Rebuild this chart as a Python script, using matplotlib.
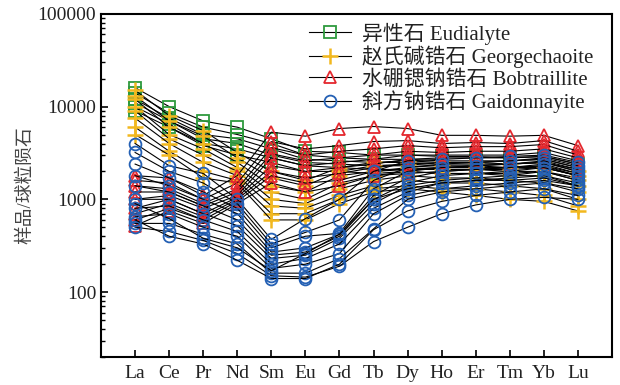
import matplotlib as mpl
mpl.use('Agg')
import matplotlib.pyplot as plt
from matplotlib.ticker import LogLocator, NullFormatter, FixedFormatter, FixedLocator

elements = ["La", "Ce", "Pr", "Nd", "Sm", "Eu", "Gd", "Tb", "Dy", "Ho", "Er", "Tm", "Yb", "Lu"]

# chondrite-normalised values, one row per sample
eudialyte = [
    [16000, 10000, 7000, 6000, 4500, 3300, 3200, 3000, 3000, 2900, 2900, 2800, 2900, 2400],
    [14000, 8500, 6000, 5000, 4000, 3000, 2800, 2700, 2700, 2600, 2600, 2600, 2700, 2200],
    [12000, 7500, 5000, 4500, 3500, 2700, 2600, 2500, 2500, 2400, 2400, 2400, 2500, 2100],
    [11000, 7000, 4500, 4000, 3000, 2500, 2400, 2300, 2300, 2200, 2200, 2200, 2300, 1900],
    [10000, 6500, 4000, 3500, 2800, 2300, 2200, 2100, 2100, 2100, 2100, 2100, 2200, 1800],
    [9000, 6000, 3800, 3000, 2500, 2000, 2000, 1900, 2000, 1900, 1900, 1900, 2000, 1700],
]
georgechaoite = [
    [15000, 8000, 5500, 3200, 2000, 1600, 2200, 2500, 2600, 2500, 2500, 2400, 2500, 2000],
    [13000, 7000, 4800, 2800, 1700, 1400, 2000, 2300, 2400, 2300, 2300, 2200, 2200, 1800],
    [12000, 6000, 4000, 2500, 1400, 1200, 1800, 2000, 2200, 2100, 2100, 2000, 2000, 1600],
    [10000, 5000, 3500, 2200, 1200, 1000, 1500, 1800, 2000, 1900, 1900, 1800, 1800, 1400],
    [9000, 4500, 3000, 2000, 1000, 900, 1300, 1600, 1800, 1700, 1700, 1600, 1500, 1200],
    [7500, 4000, 2500, 1800, 850, 800, 1100, 1400, 1600, 1500, 1500, 1400, 1300, 1000],
    [6000, 3300, 2000, 1600, 700, 700, 1000, 1300, 1400, 1300, 1300, 1200, 1100, 850],
    [5000, 3000, 1700, 1500, 600, 600, 900, 1200, 1300, 1200, 1100, 1000, 950, 750],
]
bobtraillite = [
    [1800, 1700, 1100, 1800, 5300, 4800, 5800, 6100, 5800, 4900, 4900, 4800, 4900, 3800],
    [1600, 1500, 1000, 1500, 4200, 3500, 3800, 4200, 4300, 4000, 4100, 4000, 4300, 3300],
    [1400, 1300, 900, 1300, 3600, 3000, 3300, 3500, 3800, 3600, 3700, 3700, 3900, 3000],
    [1200, 1200, 850, 1200, 3100, 2600, 2800, 3000, 3300, 3200, 3300, 3300, 3500, 2800],
    [1000, 1100, 800, 1100, 2800, 2300, 2500, 2700, 3000, 3000, 3000, 3000, 3200, 2600],
    [800, 1000, 700, 1050, 2300, 2000, 2200, 2400, 2700, 2800, 2800, 2800, 2900, 2400],
    [700, 900, 650, 1000, 2000, 1700, 1900, 2200, 2400, 2500, 2500, 2600, 2700, 2200],
    [600, 800, 600, 950, 1800, 1500, 1600, 2000, 2100, 2200, 2300, 2400, 2500, 2000],
    [520, 750, 550, 900, 1500, 1200, 1400, 1800, 1900, 2000, 2100, 2200, 2300, 1800],
]
gaidonnayite = [
    [4000, 2300, 1900, 1000, 370, 620, 1000, 2000, 2600, 2700, 2800, 2900, 3000, 2500],
    [3200, 2000, 1500, 900, 330, 440, 600, 1600, 2200, 2400, 2500, 2600, 2800, 2300],
    [2400, 1700, 1200, 800, 300, 400, 430, 1300, 2000, 2200, 2300, 2400, 2600, 2100],
    [1800, 1400, 1000, 700, 270, 300, 420, 1100, 1700, 2000, 2100, 2200, 2400, 1900],
    [1400, 1200, 850, 600, 250, 270, 400, 1000, 1500, 1800, 1900, 2000, 2200, 1800],
    [1000, 1000, 700, 520, 230, 250, 380, 900, 1400, 1600, 1700, 1800, 2000, 1600],
    [800, 850, 600, 450, 200, 230, 330, 800, 1200, 1500, 1600, 1700, 1800, 1500],
    [650, 700, 500, 400, 180, 200, 260, 700, 1100, 1300, 1400, 1500, 1600, 1400],
    [550, 550, 420, 330, 160, 160, 230, 480, 1000, 1200, 1300, 1400, 1500, 1300],
    [500, 450, 360, 260, 150, 145, 190, 350, 500, 700, 870, 1000, 1050, 1000],
    [600, 400, 330, 220, 140, 140, 200, 470, 750, 950, 1100, 1200, 1300, 1100],
    [900, 620, 380, 300, 170, 260, 420, 1000, 1300, 1500, 1600, 1600, 1700, 1400],
]

groups = [
    ("异性石 Eudialyte", eudialyte, "s", "#2e9a3e"),
    ("赵氏碱锆石 Georgechaoite", georgechaoite, "+", "#f2b81e"),
    ("水硼锶钠锆石 Bobtraillite", bobtraillite, "^", "#e4282e"),
    ("斜方钠锆石 Gaidonnayite", gaidonnayite, "o", "#2460b4"),
]

serif = ['Liberation Serif', 'Noto Sans CJK SC']
plt.rcParams['font.family'] = serif

fig = plt.figure(figsize=(6.2, 3.85), dpi=100)
ax = fig.add_axes([0.163, 0.073, 0.824, 0.891])

x = list(range(len(elements)))
for label, rows, mk, col in groups:
    for i, row in enumerate(rows):
        ax.plot(x, row, color='k', lw=0.8, marker=mk, ms=8.5 if mk != '+' else 11,
                mec=col, mfc='none', mew=1.3 if mk != '+' else 1.8,
                label=label if i == 0 else None)

ax.set_yscale('log')
ax.set_ylim(20, 100000)
ax.set_xlim(-1, 14)
ax.xaxis.set_major_locator(FixedLocator(x))
ax.set_xticklabels(elements)
ax.yaxis.set_major_locator(FixedLocator([100, 1000, 10000, 100000]))
ax.yaxis.set_major_formatter(FixedFormatter(['100', '1000', '10000', '100000']))
ax.yaxis.set_minor_locator(LogLocator(base=10, subs=range(2, 10)))
ax.yaxis.set_minor_formatter(NullFormatter())
ax.tick_params(axis='both', which='major', direction='in', length=5, width=1.2,
               labelsize=14, labelcolor='#222222')
ax.tick_params(axis='y', which='minor', direction='in', length=3, width=1.0)
ax.tick_params(axis='x', pad=6)
for s in ax.spines.values():
    s.set_linewidth(1.5)

ax.set_ylabel("样品/球粒陨石", fontsize=13.5, color='#444444', labelpad=2)

leg = ax.legend(loc='upper left', frameon=False, prop={'size': 15}, handlelength=2.0,
                labelspacing=0.05, borderpad=0, borderaxespad=0, handletextpad=0.5,
                bbox_to_anchor=(0.408, 0.975))
for t in leg.get_texts():
    t.set_color('#222222')

fig.savefig("out.png", dpi=100)
